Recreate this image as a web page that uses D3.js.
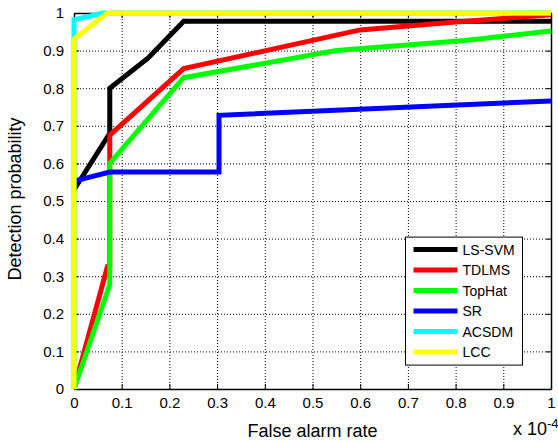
<!DOCTYPE html>
<meta charset="utf-8">
<script src="https://d3js.org/d3.v7.min.js"></script>
<title>ROC curves</title>
<style>
body { margin: 0; background: #fff; font-family: "Liberation Sans", Arial, sans-serif; }
.axis path, .axis line { stroke: #000; }
.axis text { font-size: 15px; fill: #000; font-family: "Liberation Sans", Arial, sans-serif; }
.grid line { stroke: #000; stroke-dasharray: 1,2; stroke-width: 1; }
.grid path { stroke: none; }
.curve { fill: none; stroke-width: 5; stroke-linejoin: miter; }
</style>
<body>
<svg id="chart" width="558" height="443"></svg>
<script>

// tick labels (false alarm rate is in units of 1e-4)
var xTicks = [0, 0.1, 0.2, 0.3, 0.4, 0.5, 0.6, 0.7, 0.8, 0.9, 1];
var yTicks = [0, 0.1, 0.2, 0.3, 0.4, 0.5, 0.6, 0.7, 0.8, 0.9, 1];

var methods = ["LS-SVM", "TDLMS", "TopHat", "SR", "ACSDM", "LCC"];
var colors  = ["#000000", "#ff0000", "#00ff00", "#0000ff", "#00ffff", "#ffff00"];

// [false alarm rate, detection probability]
var lssvm  = [[0, 0.53], [0.075, 0.68], [0.075, 0.80], [0.155, 0.88], [0.23, 0.978], [1, 0.978]];
var tdlms  = [[0, 0], [0.07, 0.325], [0.075, 0.325], [0.075, 0.675], [0.23, 0.852], [0.6, 0.955], [0.8, 0.976], [1, 0.995]];
var tophat = [[0, 0], [0.075, 0.278], [0.075, 0.60], [0.23, 0.828], [0.55, 0.90], [0.82, 0.927], [1, 0.952]];
var sr     = [[0, 0.553], [0.075, 0.577], [0.304, 0.577], [0.304, 0.728], [1, 0.766]];
var acsdm  = [[0, 0], [0, 0.982], [0.062, 1], [1, 1]];
var lcc    = [[0, 0], [0, 0.93], [0.07, 1], [1, 1]];

var series = [lssvm, tdlms, tophat, sr, acsdm, lcc];

var svg = d3.select("#chart"),
    margin = {top: 13, right: 7, bottom: 54, left: 74},
    width = +svg.attr("width") - margin.left - margin.right,
    height = +svg.attr("height") - margin.top - margin.bottom;

var x = d3.scaleLinear().domain([0, 1]).range([0, width]);
var y = d3.scaleLinear().domain([0, 1]).range([height, 0]);

var fmt = function(d) { return (d === 0 || d === 1) ? String(d) : d.toFixed(1); };

var g = svg.append("g")
    .attr("transform", "translate(" + margin.left + "," + margin.top + ")");

// dotted grid
g.append("g")
    .attr("class", "grid")
    .attr("transform", "translate(0," + height + ")")
    .call(d3.axisBottom(x).tickValues(xTicks.slice(1, -1)).tickSize(-height).tickFormat(""));
g.append("g")
    .attr("class", "grid")
    .call(d3.axisLeft(y).tickValues(yTicks.slice(1, -1)).tickSize(-width).tickFormat(""));

var line = d3.line()
    .x(function(d) { return x(d[0]); })
    .y(function(d) { return y(d[1]); });

// box and inward ticks
g.append("g")
    .attr("class", "axis")
    .attr("transform", "translate(0," + height + ")")
    .call(d3.axisBottom(x).tickValues(xTicks).tickSizeInner(-5).tickSizeOuter(0).tickPadding(8).tickFormat(fmt));
g.append("g")
    .attr("class", "axis")
    .call(d3.axisLeft(y).tickValues(yTicks).tickSizeInner(-5).tickSizeOuter(0).tickPadding(10).tickFormat(fmt));
g.append("g")
    .attr("class", "axis")
    .call(d3.axisTop(x).tickValues(xTicks).tickSizeInner(-5).tickSizeOuter(0).tickFormat(""));
g.append("g")
    .attr("class", "axis")
    .attr("transform", "translate(" + width + ",0)")
    .call(d3.axisRight(y).tickValues(yTicks).tickSizeInner(-5).tickSizeOuter(0).tickFormat(""));
g.selectAll(".axis path").style("stroke-width", 1.5);

// curves, drawn in legend order
g.selectAll(".curve")
    .data(series)
  .enter().append("path")
    .attr("class", "curve")
    .attr("d", line)
    .style("stroke", function(d, i) { return colors[i]; });

// axis labels
svg.append("text")
    .attr("x", margin.left + width / 2)
    .attr("y", 437)
    .attr("text-anchor", "middle")
    .style("font-size", "18px")
    .text("False alarm rate");

svg.append("text")
    .attr("transform", "translate(21," + (margin.top + height / 2 - 2) + ") rotate(-90)")
    .attr("text-anchor", "middle")
    .style("font-size", "18px")
    .text("Detection probability");

var expo = svg.append("text")
    .attr("x", 513)
    .attr("y", 435)
    .style("font-size", "18px");
expo.append("tspan").text("x 10");
expo.append("tspan").attr("dy", -7).style("font-size", "13px").text("-4");

// legend
var legend = g.append("g")
    .attr("transform", "translate(" + (x(0.695)) + "," + (y(0.404)) + ")");

legend.append("rect")
    .attr("width", 117)
    .attr("height", 128)
    .style("fill", "#fff")
    .style("stroke", "#000")
    .style("stroke-width", 1);

var item = legend.selectAll(".item")
    .data(methods)
  .enter().append("g")
    .attr("class", "item")
    .attr("transform", function(d, i) { return "translate(0," + (12.5 + i * 20.5) + ")"; });

item.append("line")
    .attr("x1", 8)
    .attr("x2", 52)
    .style("stroke", function(d, i) { return colors[i]; })
    .style("stroke-width", 5);

item.append("text")
    .attr("x", 57)
    .attr("dy", "0.35em")
    .style("font-size", "14px")
    .text(function(d) { return d; });

</script>
</body>
